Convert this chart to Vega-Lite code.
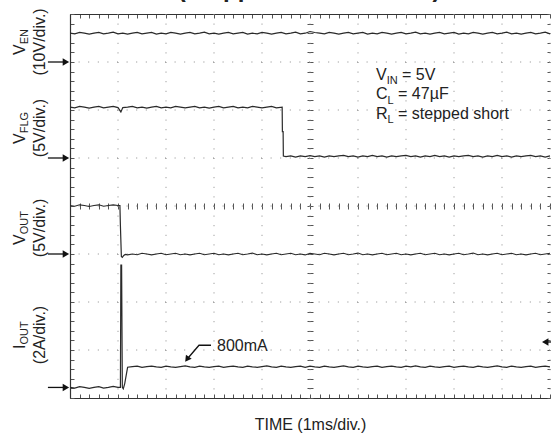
{
  "$schema": "https://vega.github.io/schema/vega-lite/v6.json",
  "width": 480,
  "height": 384,
  "autosize": "none",
  "padding": {"left": 70, "top": 14, "right": 1, "bottom": 37},
  "background": "white",
  "config": {"view": {"stroke": null}, "font": "Liberation Sans", "axis": {"labels": false, "grid": false, "tickColor": "#555", "domainColor": "#333", "tickWidth": 1, "title": null}},
  "datasets": {
    "gridx": [{"x": 1}, {"x": 2}, {"x": 3}, {"x": 4}, {"x": 5}, {"x": 6}, {"x": 7}, {"x": 8}, {"x": 9}, {"x": 10}],
    "gridy": [{"y": 1}, {"y": 2}, {"y": 3}, {"y": 4}, {"y": 5}, {"y": 6}, {"y": 7}],
    "refs": [{"ch": "VEN", "y": 7.0}, {"ch": "VFLG", "y": 5.0}, {"ch": "VOUT", "y": 3.0}, {"ch": "IOUT", "y": 0.22}],
    "refr": [{"ch": "IOUT", "y": 1.167}],
    "callout": [{"x": 2.9375, "y": 1.099}, {"x": 2.6875, "y": 1.099}, {"x": 2.4375, "y": 0.808}],
    "callhead": [{"x": 2.4375, "y": 0.808}],
    "ann": [
      {"t": "V", "x": 6.375, "y": 6.625}, {"t": "= 5V", "x": 6.917, "y": 6.625},
      {"t": "C", "x": 6.375, "y": 6.219}, {"t": "= 47µF", "x": 6.835, "y": 6.219},
      {"t": "R", "x": 6.375, "y": 5.8125}, {"t": "= stepped short", "x": 6.835, "y": 5.8125},
      {"t": "800mA", "x": 3.0625, "y": 0.979}
    ],
    "annsub": [
      {"t": "IN", "x": 6.598, "y": 6.552}, {"t": "L", "x": 6.617, "y": 6.135}, {"t": "L", "x": 6.617, "y": 5.729}
    ],
    "lab": [
      {"t": "V", "x": -0.9375, "y": 7.146}, {"t": "V", "x": -0.9375, "y": 5.292},
      {"t": "V", "x": -0.9375, "y": 3.1875}, {"t": "I", "x": -0.9375, "y": 1.021}
    ],
    "labsub": [
      {"t": "EN", "x": -0.865, "y": 7.369}, {"t": "FLG", "x": -0.865, "y": 5.515},
      {"t": "OUT", "x": -0.865, "y": 3.41}, {"t": "OUT", "x": -0.865, "y": 1.1125}
    ],
    "labscale": [
      {"t": "(10V/div.)", "x": -0.625, "y": 7.417}, {"t": "(5V/div.)", "x": -0.625, "y": 5.625},
      {"t": "(5V/div.)", "x": -0.625, "y": 3.542}, {"t": "(2A/div.)", "x": -0.625, "y": 1.3125}
    ],
    "title": [{"t": "(Stepped Short Circuit)", "x": 4.98, "y": 8.354}],
    "traces": [
      {"s":"VEN","x":0,"y":7.6},{"s":"VEN","x":0.1,"y":7.585},{"s":"VEN","x":0.2,"y":7.615},{"s":"VEN","x":0.3,"y":7.6},{"s":"VEN","x":0.4,"y":7.58},{"s":"VEN","x":0.5,"y":7.6},{"s":"VEN","x":0.6,"y":7.615},{"s":"VEN","x":0.7,"y":7.585},{"s":"VEN","x":0.8,"y":7.6},{"s":"VEN","x":0.9,"y":7.62},
      {"s":"VEN","x":1,"y":7.585},{"s":"VEN","x":1.1,"y":7.6},{"s":"VEN","x":1.2,"y":7.58},{"s":"VEN","x":1.3,"y":7.6},{"s":"VEN","x":1.4,"y":7.615},{"s":"VEN","x":1.5,"y":7.585},{"s":"VEN","x":1.6,"y":7.6},{"s":"VEN","x":1.7,"y":7.615},{"s":"VEN","x":1.8,"y":7.58},{"s":"VEN","x":1.9,"y":7.6},
      {"s":"VEN","x":2,"y":7.585},{"s":"VEN","x":2.1,"y":7.615},{"s":"VEN","x":2.2,"y":7.6},{"s":"VEN","x":2.3,"y":7.58},{"s":"VEN","x":2.4,"y":7.6},{"s":"VEN","x":2.5,"y":7.615},{"s":"VEN","x":2.6,"y":7.585},{"s":"VEN","x":2.7,"y":7.6},{"s":"VEN","x":2.8,"y":7.62},{"s":"VEN","x":2.9,"y":7.585},
      {"s":"VEN","x":3,"y":7.6},{"s":"VEN","x":3.1,"y":7.58},{"s":"VEN","x":3.2,"y":7.6},{"s":"VEN","x":3.3,"y":7.615},{"s":"VEN","x":3.4,"y":7.585},{"s":"VEN","x":3.5,"y":7.6},{"s":"VEN","x":3.6,"y":7.615},{"s":"VEN","x":3.7,"y":7.58},{"s":"VEN","x":3.8,"y":7.6},{"s":"VEN","x":3.9,"y":7.585},
      {"s":"VEN","x":4,"y":7.615},{"s":"VEN","x":4.1,"y":7.6},{"s":"VEN","x":4.2,"y":7.58},{"s":"VEN","x":4.3,"y":7.6},{"s":"VEN","x":4.4,"y":7.615},{"s":"VEN","x":4.5,"y":7.585},{"s":"VEN","x":4.6,"y":7.6},{"s":"VEN","x":4.7,"y":7.62},{"s":"VEN","x":4.8,"y":7.585},{"s":"VEN","x":4.9,"y":7.6},
      {"s":"VEN","x":5,"y":7.635},{"s":"VEN","x":5.1,"y":7.615},{"s":"VEN","x":5.2,"y":7.6},{"s":"VEN","x":5.3,"y":7.585},{"s":"VEN","x":5.4,"y":7.615},{"s":"VEN","x":5.5,"y":7.6},{"s":"VEN","x":5.6,"y":7.58},{"s":"VEN","x":5.7,"y":7.6},{"s":"VEN","x":5.8,"y":7.615},{"s":"VEN","x":5.9,"y":7.585},
      {"s":"VEN","x":6,"y":7.6},{"s":"VEN","x":6.1,"y":7.615},{"s":"VEN","x":6.2,"y":7.58},{"s":"VEN","x":6.3,"y":7.6},{"s":"VEN","x":6.4,"y":7.585},{"s":"VEN","x":6.5,"y":7.615},{"s":"VEN","x":6.6,"y":7.6},{"s":"VEN","x":6.7,"y":7.58},{"s":"VEN","x":6.8,"y":7.6},{"s":"VEN","x":6.9,"y":7.615},
      {"s":"VEN","x":7,"y":7.585},{"s":"VEN","x":7.1,"y":7.6},{"s":"VEN","x":7.2,"y":7.62},{"s":"VEN","x":7.3,"y":7.585},{"s":"VEN","x":7.4,"y":7.6},{"s":"VEN","x":7.5,"y":7.58},{"s":"VEN","x":7.6,"y":7.6},{"s":"VEN","x":7.7,"y":7.615},{"s":"VEN","x":7.8,"y":7.585},{"s":"VEN","x":7.9,"y":7.6},
      {"s":"VEN","x":8,"y":7.615},{"s":"VEN","x":8.1,"y":7.58},{"s":"VEN","x":8.2,"y":7.6},{"s":"VEN","x":8.3,"y":7.585},{"s":"VEN","x":8.4,"y":7.615},{"s":"VEN","x":8.5,"y":7.6},{"s":"VEN","x":8.6,"y":7.58},{"s":"VEN","x":8.7,"y":7.6},{"s":"VEN","x":8.8,"y":7.615},{"s":"VEN","x":8.9,"y":7.585},
      {"s":"VEN","x":9,"y":7.6},{"s":"VEN","x":9.1,"y":7.62},{"s":"VEN","x":9.2,"y":7.585},{"s":"VEN","x":9.3,"y":7.6},{"s":"VEN","x":9.4,"y":7.58},{"s":"VEN","x":9.5,"y":7.6},{"s":"VEN","x":9.6,"y":7.615},{"s":"VEN","x":9.7,"y":7.585},{"s":"VEN","x":9.8,"y":7.6},{"s":"VEN","x":9.9,"y":7.62},{"s":"VEN","x":10,"y":7.585},

      {"s":"VFLG","x":0,"y":6.06},{"s":"VFLG","x":0.1,"y":6.045},{"s":"VFLG","x":0.2,"y":6.075},{"s":"VFLG","x":0.3,"y":6.06},{"s":"VFLG","x":0.4,"y":6.04},{"s":"VFLG","x":0.5,"y":6.06},{"s":"VFLG","x":0.6,"y":6.075},{"s":"VFLG","x":0.7,"y":6.045},{"s":"VFLG","x":0.8,"y":6.06},{"s":"VFLG","x":0.9,"y":6.075},
      {"s":"VFLG","x":1,"y":6.05},{"s":"VFLG","x":1.06,"y":5.96},{"s":"VFLG","x":1.1,"y":6.05},{"s":"VFLG","x":1.2,"y":6.06},{"s":"VFLG","x":1.3,"y":6.075},{"s":"VFLG","x":1.4,"y":6.045},{"s":"VFLG","x":1.5,"y":6.06},{"s":"VFLG","x":1.6,"y":6.04},{"s":"VFLG","x":1.7,"y":6.06},{"s":"VFLG","x":1.8,"y":6.075},{"s":"VFLG","x":1.9,"y":6.045},
      {"s":"VFLG","x":2,"y":6.06},{"s":"VFLG","x":2.1,"y":6.045},{"s":"VFLG","x":2.2,"y":6.075},{"s":"VFLG","x":2.3,"y":6.06},{"s":"VFLG","x":2.4,"y":6.045},{"s":"VFLG","x":2.5,"y":6.06},{"s":"VFLG","x":2.6,"y":6.075},{"s":"VFLG","x":2.7,"y":6.045},{"s":"VFLG","x":2.8,"y":6.06},{"s":"VFLG","x":2.9,"y":6.04},
      {"s":"VFLG","x":3,"y":6.06},{"s":"VFLG","x":3.1,"y":6.075},{"s":"VFLG","x":3.2,"y":6.045},{"s":"VFLG","x":3.3,"y":6.06},{"s":"VFLG","x":3.4,"y":6.075},{"s":"VFLG","x":3.5,"y":6.045},{"s":"VFLG","x":3.6,"y":6.06},{"s":"VFLG","x":3.7,"y":6.045},{"s":"VFLG","x":3.8,"y":6.075},{"s":"VFLG","x":3.9,"y":6.06},
      {"s":"VFLG","x":4,"y":6.045},{"s":"VFLG","x":4.1,"y":6.06},{"s":"VFLG","x":4.2,"y":6.075},{"s":"VFLG","x":4.3,"y":6.045},{"s":"VFLG","x":4.42,"y":6.06},{"s":"VFLG","x":4.425,"y":5.55},{"s":"VFLG","x":4.44,"y":5.55},{"s":"VFLG","x":4.445,"y":5.04},
      {"s":"VFLG","x":4.5,"y":5.03},{"s":"VFLG","x":4.6,"y":5.045},{"s":"VFLG","x":4.7,"y":5.02},{"s":"VFLG","x":4.8,"y":5.045},{"s":"VFLG","x":4.9,"y":5.03},{"s":"VFLG","x":5,"y":5.05},{"s":"VFLG","x":5.1,"y":5.03},{"s":"VFLG","x":5.2,"y":5.045},{"s":"VFLG","x":5.3,"y":5.02},{"s":"VFLG","x":5.4,"y":5.045},
      {"s":"VFLG","x":5.5,"y":5.03},{"s":"VFLG","x":5.6,"y":5.045},{"s":"VFLG","x":5.7,"y":5.055},{"s":"VFLG","x":5.8,"y":5.03},{"s":"VFLG","x":5.9,"y":5.045},{"s":"VFLG","x":6,"y":5.02},{"s":"VFLG","x":6.1,"y":5.045},{"s":"VFLG","x":6.2,"y":5.03},{"s":"VFLG","x":6.3,"y":5.055},{"s":"VFLG","x":6.4,"y":5.03},
      {"s":"VFLG","x":6.5,"y":5.045},{"s":"VFLG","x":6.6,"y":5.02},{"s":"VFLG","x":6.7,"y":5.045},{"s":"VFLG","x":6.8,"y":5.03},{"s":"VFLG","x":6.9,"y":5.045},{"s":"VFLG","x":7,"y":5.055},{"s":"VFLG","x":7.1,"y":5.03},{"s":"VFLG","x":7.2,"y":5.045},{"s":"VFLG","x":7.3,"y":5.02},{"s":"VFLG","x":7.4,"y":5.045},
      {"s":"VFLG","x":7.5,"y":5.03},{"s":"VFLG","x":7.6,"y":5.055},{"s":"VFLG","x":7.7,"y":5.03},{"s":"VFLG","x":7.8,"y":5.045},{"s":"VFLG","x":7.9,"y":5.02},{"s":"VFLG","x":8,"y":5.045},{"s":"VFLG","x":8.1,"y":5.03},{"s":"VFLG","x":8.2,"y":5.045},{"s":"VFLG","x":8.3,"y":5.055},{"s":"VFLG","x":8.4,"y":5.03},
      {"s":"VFLG","x":8.5,"y":5.045},{"s":"VFLG","x":8.6,"y":5.02},{"s":"VFLG","x":8.7,"y":5.045},{"s":"VFLG","x":8.8,"y":5.03},{"s":"VFLG","x":8.9,"y":5.055},{"s":"VFLG","x":9,"y":5.03},{"s":"VFLG","x":9.1,"y":5.045},{"s":"VFLG","x":9.2,"y":5.02},{"s":"VFLG","x":9.3,"y":5.045},{"s":"VFLG","x":9.4,"y":5.03},
      {"s":"VFLG","x":9.5,"y":5.045},{"s":"VFLG","x":9.6,"y":5.055},{"s":"VFLG","x":9.7,"y":5.03},{"s":"VFLG","x":9.8,"y":5.045},{"s":"VFLG","x":9.9,"y":5.02},{"s":"VFLG","x":10,"y":5.045},

      {"s":"VOUT","x":0,"y":4.01},{"s":"VOUT","x":0.1,"y":3.995},{"s":"VOUT","x":0.2,"y":4.025},{"s":"VOUT","x":0.3,"y":4.01},{"s":"VOUT","x":0.4,"y":3.99},{"s":"VOUT","x":0.5,"y":4.01},{"s":"VOUT","x":0.6,"y":4.025},{"s":"VOUT","x":0.7,"y":3.995},{"s":"VOUT","x":0.8,"y":4.01},{"s":"VOUT","x":0.9,"y":4.025},
      {"s":"VOUT","x":1,"y":4.01},{"s":"VOUT","x":1.04,"y":4.01},{"s":"VOUT","x":1.05,"y":3.6},{"s":"VOUT","x":1.07,"y":2.95},{"s":"VOUT","x":1.09,"y":2.93},{"s":"VOUT","x":1.12,"y":2.97},{"s":"VOUT","x":1.15,"y":2.99},
      {"s":"VOUT","x":1.2,"y":2.98},{"s":"VOUT","x":1.3,"y":3.0},{"s":"VOUT","x":1.4,"y":2.985},{"s":"VOUT","x":1.5,"y":3.015},{"s":"VOUT","x":1.6,"y":3.0},{"s":"VOUT","x":1.7,"y":2.98},{"s":"VOUT","x":1.8,"y":3.0},{"s":"VOUT","x":1.9,"y":3.015},
      {"s":"VOUT","x":2,"y":2.985},{"s":"VOUT","x":2.1,"y":3.0},{"s":"VOUT","x":2.2,"y":3.015},{"s":"VOUT","x":2.3,"y":2.985},{"s":"VOUT","x":2.4,"y":3.0},{"s":"VOUT","x":2.5,"y":2.98},{"s":"VOUT","x":2.6,"y":3.0},{"s":"VOUT","x":2.7,"y":3.015},{"s":"VOUT","x":2.8,"y":2.985},{"s":"VOUT","x":2.9,"y":3.0},
      {"s":"VOUT","x":3,"y":3.015},{"s":"VOUT","x":3.1,"y":2.985},{"s":"VOUT","x":3.2,"y":3.0},{"s":"VOUT","x":3.3,"y":2.98},{"s":"VOUT","x":3.4,"y":3.0},{"s":"VOUT","x":3.5,"y":3.015},{"s":"VOUT","x":3.6,"y":2.985},{"s":"VOUT","x":3.7,"y":3.0},{"s":"VOUT","x":3.8,"y":3.02},{"s":"VOUT","x":3.9,"y":2.985},
      {"s":"VOUT","x":4,"y":3.0},{"s":"VOUT","x":4.1,"y":2.98},{"s":"VOUT","x":4.2,"y":3.0},{"s":"VOUT","x":4.3,"y":3.015},{"s":"VOUT","x":4.4,"y":2.985},{"s":"VOUT","x":4.5,"y":3.0},{"s":"VOUT","x":4.6,"y":3.015},{"s":"VOUT","x":4.7,"y":2.985},{"s":"VOUT","x":4.8,"y":3.0},{"s":"VOUT","x":4.9,"y":2.98},
      {"s":"VOUT","x":5,"y":3.015},{"s":"VOUT","x":5.1,"y":3.0},{"s":"VOUT","x":5.2,"y":2.985},{"s":"VOUT","x":5.3,"y":3.015},{"s":"VOUT","x":5.4,"y":3.0},{"s":"VOUT","x":5.5,"y":2.98},{"s":"VOUT","x":5.6,"y":3.0},{"s":"VOUT","x":5.7,"y":3.015},{"s":"VOUT","x":5.8,"y":2.985},{"s":"VOUT","x":5.9,"y":3.0},
      {"s":"VOUT","x":6,"y":3.02},{"s":"VOUT","x":6.1,"y":2.985},{"s":"VOUT","x":6.2,"y":3.0},{"s":"VOUT","x":6.3,"y":2.98},{"s":"VOUT","x":6.4,"y":3.0},{"s":"VOUT","x":6.5,"y":3.015},{"s":"VOUT","x":6.6,"y":2.985},{"s":"VOUT","x":6.7,"y":3.0},{"s":"VOUT","x":6.8,"y":3.015},{"s":"VOUT","x":6.9,"y":2.985},
      {"s":"VOUT","x":7,"y":3.0},{"s":"VOUT","x":7.1,"y":2.98},{"s":"VOUT","x":7.2,"y":3.0},{"s":"VOUT","x":7.3,"y":3.015},{"s":"VOUT","x":7.4,"y":2.985},{"s":"VOUT","x":7.5,"y":3.0},{"s":"VOUT","x":7.6,"y":3.015},{"s":"VOUT","x":7.7,"y":2.985},{"s":"VOUT","x":7.8,"y":3.0},{"s":"VOUT","x":7.9,"y":2.98},
      {"s":"VOUT","x":8,"y":3.0},{"s":"VOUT","x":8.1,"y":3.015},{"s":"VOUT","x":8.2,"y":2.985},{"s":"VOUT","x":8.3,"y":3.0},{"s":"VOUT","x":8.4,"y":3.02},{"s":"VOUT","x":8.5,"y":2.985},{"s":"VOUT","x":8.6,"y":3.0},{"s":"VOUT","x":8.7,"y":2.98},{"s":"VOUT","x":8.8,"y":3.0},{"s":"VOUT","x":8.9,"y":3.015},
      {"s":"VOUT","x":9,"y":2.985},{"s":"VOUT","x":9.1,"y":3.0},{"s":"VOUT","x":9.2,"y":3.015},{"s":"VOUT","x":9.3,"y":2.985},{"s":"VOUT","x":9.4,"y":3.0},{"s":"VOUT","x":9.5,"y":2.98},{"s":"VOUT","x":9.6,"y":3.0},{"s":"VOUT","x":9.7,"y":3.015},{"s":"VOUT","x":9.8,"y":2.985},{"s":"VOUT","x":9.9,"y":3.0},{"s":"VOUT","x":10,"y":3.015},

      {"s":"IOUT","x":0,"y":0.22},{"s":"IOUT","x":0.1,"y":0.205},{"s":"IOUT","x":0.2,"y":0.235},{"s":"IOUT","x":0.3,"y":0.22},{"s":"IOUT","x":0.4,"y":0.2},{"s":"IOUT","x":0.5,"y":0.22},{"s":"IOUT","x":0.6,"y":0.235},{"s":"IOUT","x":0.7,"y":0.205},{"s":"IOUT","x":0.8,"y":0.22},{"s":"IOUT","x":0.9,"y":0.24},
      {"s":"IOUT","x":1,"y":0.22},{"s":"IOUT","x":1.05,"y":0.22},{"s":"IOUT","x":1.06,"y":2.77},{"s":"IOUT","x":1.075,"y":2.77},{"s":"IOUT","x":1.09,"y":0.22},{"s":"IOUT","x":1.11,"y":0.19},{"s":"IOUT","x":1.14,"y":0.3},
      {"s":"IOUT","x":1.2,"y":0.64},{"s":"IOUT","x":1.3,"y":0.655},{"s":"IOUT","x":1.4,"y":0.665},{"s":"IOUT","x":1.5,"y":0.64},{"s":"IOUT","x":1.6,"y":0.655},{"s":"IOUT","x":1.7,"y":0.665},{"s":"IOUT","x":1.8,"y":0.65},{"s":"IOUT","x":1.9,"y":0.64},
      {"s":"IOUT","x":2,"y":0.665},{"s":"IOUT","x":2.1,"y":0.65},{"s":"IOUT","x":2.2,"y":0.64},{"s":"IOUT","x":2.3,"y":0.655},{"s":"IOUT","x":2.4,"y":0.67},{"s":"IOUT","x":2.5,"y":0.65},{"s":"IOUT","x":2.6,"y":0.64},{"s":"IOUT","x":2.7,"y":0.665},{"s":"IOUT","x":2.8,"y":0.65},{"s":"IOUT","x":2.9,"y":0.64},
      {"s":"IOUT","x":3,"y":0.655},{"s":"IOUT","x":3.1,"y":0.665},{"s":"IOUT","x":3.2,"y":0.64},{"s":"IOUT","x":3.3,"y":0.655},{"s":"IOUT","x":3.4,"y":0.665},{"s":"IOUT","x":3.5,"y":0.65},{"s":"IOUT","x":3.6,"y":0.64},{"s":"IOUT","x":3.7,"y":0.665},{"s":"IOUT","x":3.8,"y":0.65},{"s":"IOUT","x":3.9,"y":0.64},
      {"s":"IOUT","x":4,"y":0.655},{"s":"IOUT","x":4.1,"y":0.67},{"s":"IOUT","x":4.2,"y":0.65},{"s":"IOUT","x":4.3,"y":0.64},{"s":"IOUT","x":4.4,"y":0.665},{"s":"IOUT","x":4.5,"y":0.65},{"s":"IOUT","x":4.6,"y":0.64},{"s":"IOUT","x":4.7,"y":0.655},{"s":"IOUT","x":4.8,"y":0.665},{"s":"IOUT","x":4.9,"y":0.64},
      {"s":"IOUT","x":5,"y":0.665},{"s":"IOUT","x":5.1,"y":0.65},{"s":"IOUT","x":5.2,"y":0.64},{"s":"IOUT","x":5.3,"y":0.665},{"s":"IOUT","x":5.4,"y":0.65},{"s":"IOUT","x":5.5,"y":0.64},{"s":"IOUT","x":5.6,"y":0.655},{"s":"IOUT","x":5.7,"y":0.67},{"s":"IOUT","x":5.8,"y":0.65},{"s":"IOUT","x":5.9,"y":0.64},
      {"s":"IOUT","x":6,"y":0.665},{"s":"IOUT","x":6.1,"y":0.65},{"s":"IOUT","x":6.2,"y":0.64},{"s":"IOUT","x":6.3,"y":0.655},{"s":"IOUT","x":6.4,"y":0.665},{"s":"IOUT","x":6.5,"y":0.64},{"s":"IOUT","x":6.6,"y":0.655},{"s":"IOUT","x":6.7,"y":0.665},{"s":"IOUT","x":6.8,"y":0.65},{"s":"IOUT","x":6.9,"y":0.64},
      {"s":"IOUT","x":7,"y":0.665},{"s":"IOUT","x":7.1,"y":0.65},{"s":"IOUT","x":7.2,"y":0.67},{"s":"IOUT","x":7.3,"y":0.65},{"s":"IOUT","x":7.4,"y":0.64},{"s":"IOUT","x":7.5,"y":0.665},{"s":"IOUT","x":7.6,"y":0.65},{"s":"IOUT","x":7.7,"y":0.64},{"s":"IOUT","x":7.8,"y":0.655},{"s":"IOUT","x":7.9,"y":0.665},
      {"s":"IOUT","x":8,"y":0.64},{"s":"IOUT","x":8.1,"y":0.655},{"s":"IOUT","x":8.2,"y":0.665},{"s":"IOUT","x":8.3,"y":0.65},{"s":"IOUT","x":8.4,"y":0.64},{"s":"IOUT","x":8.5,"y":0.665},{"s":"IOUT","x":8.6,"y":0.65},{"s":"IOUT","x":8.7,"y":0.64},{"s":"IOUT","x":8.8,"y":0.655},{"s":"IOUT","x":8.9,"y":0.67},
      {"s":"IOUT","x":9,"y":0.65},{"s":"IOUT","x":9.1,"y":0.64},{"s":"IOUT","x":9.2,"y":0.665},{"s":"IOUT","x":9.3,"y":0.65},{"s":"IOUT","x":9.4,"y":0.64},{"s":"IOUT","x":9.5,"y":0.655},{"s":"IOUT","x":9.6,"y":0.665},{"s":"IOUT","x":9.7,"y":0.64},{"s":"IOUT","x":9.8,"y":0.655},{"s":"IOUT","x":9.9,"y":0.665},{"s":"IOUT","x":10,"y":0.65}
    ]
  },
  "resolve": {"axis": {"x": "independent", "y": "independent"}},
  "layer": [
    {
      "data": {"name": "gridx"},
      "mark": {"type": "rule", "strokeDash": [1, 8.6], "color": "#8a8a8a", "strokeWidth": 1},
      "encoding": {
        "x": {"field": "x", "type": "quantitative", "scale": {"domain": [0, 10], "nice": false, "zero": false},
          "axis": {"orient": "bottom", "values": [0,0.2,0.4,0.6,0.8,1,1.2,1.4,1.6,1.8,2,2.2,2.4,2.6,2.8,3,3.2,3.4,3.6,3.8,4,4.2,4.4,4.6,4.8,5,5.2,5.4,5.6,5.8,6,6.2,6.4,6.6,6.8,7,7.2,7.4,7.6,7.8,8,8.2,8.4,8.6,8.8,9,9.2,9.4,9.6,9.8,10],
            "tickSize": -4, "labels": false, "domain": true, "domainWidth": 1.2,
            "title": "TIME (1ms/div.)", "titleFont": "Liberation Sans", "titleFontSize": 16, "titleFontWeight": "normal", "titleColor": "#222", "titleBaseline": "alphabetic", "titleY": 31}}
      }
    },
    {
      "data": {"name": "gridy"},
      "mark": {"type": "rule", "strokeDash": [1, 8.6], "color": "#8a8a8a", "strokeWidth": 1},
      "encoding": {
        "y": {"field": "y", "type": "quantitative", "scale": {"domain": [0, 8], "nice": false, "zero": false},
          "axis": {"orient": "left", "values": [0,0.2,0.4,0.6,0.8,1,1.2,1.4,1.6,1.8,2,2.2,2.4,2.6,2.8,3,3.2,3.4,3.6,3.8,4,4.2,4.4,4.6,4.8,5,5.2,5.4,5.6,5.8,6,6.2,6.4,6.6,6.8,7,7.2,7.4,7.6,7.8,8],
            "tickSize": -4, "labels": false, "domain": true, "domainWidth": 1.2, "title": null}}
      }
    },
    {
      "data": {"name": "traces"},
      "mark": {"type": "line", "color": "#2a2a2a", "strokeWidth": 1.2},
      "encoding": {
        "x": {"field": "x", "type": "quantitative", "scale": {"domain": [0, 10], "nice": false, "zero": false},
          "axis": {"orient": "top", "values": [0,0.2,0.4,0.6,0.8,1,1.2,1.4,1.6,1.8,2,2.2,2.4,2.6,2.8,3,3.2,3.4,3.6,3.8,4,4.2,4.4,4.6,4.8,5,5.2,5.4,5.6,5.8,6,6.2,6.4,6.6,6.8,7,7.2,7.4,7.6,7.8,8,8.2,8.4,8.6,8.8,9,9.2,9.4,9.6,9.8,10],
            "tickSize": -4, "labels": false, "domain": true, "domainWidth": 1.2, "title": null}},
        "y": {"field": "y", "type": "quantitative", "scale": {"domain": [0, 8], "nice": false, "zero": false},
          "axis": {"orient": "right", "values": [0,0.2,0.4,0.6,0.8,1,1.2,1.4,1.6,1.8,2,2.2,2.4,2.6,2.8,3,3.2,3.4,3.6,3.8,4,4.2,4.4,4.6,4.8,5,5.2,5.4,5.6,5.8,6,6.2,6.4,6.6,6.8,7,7.2,7.4,7.6,7.8,8],
            "tickSize": -3, "labels": false, "domain": false, "title": null}},
        "detail": {"field": "s"}
      }
    },
    {
      "data": {"name": "ann"},
      "mark": {"type": "text", "font": "Liberation Sans", "fontSize": 16, "align": "left", "baseline": "alphabetic", "color": "#222"},
      "encoding": {
        "x": {"field": "x", "type": "quantitative", "scale": {"domain": [0, 10], "nice": false, "zero": false},
          "axis": {"orient": "bottom", "offset": -195, "values": [0,0.2,0.4,0.6,0.8,1,1.2,1.4,1.6,1.8,2,2.2,2.4,2.6,2.8,3,3.2,3.4,3.6,3.8,4,4.2,4.4,4.6,4.8,5,5.2,5.4,5.6,5.8,6,6.2,6.4,6.6,6.8,7,7.2,7.4,7.6,7.8,8,8.2,8.4,8.6,8.8,9,9.2,9.4,9.6,9.8,10],
            "tickSize": 6, "labels": false, "domain": false, "title": null}},
        "y": {"field": "y", "type": "quantitative", "scale": {"domain": [0, 8], "nice": false, "zero": false},
          "axis": {"orient": "left", "offset": -243, "values": [0,0.2,0.4,0.6,0.8,1,1.2,1.4,1.6,1.8,2,2.2,2.4,2.6,2.8,3,3.2,3.4,3.6,3.8,4,4.2,4.4,4.6,4.8,5,5.2,5.4,5.6,5.8,6,6.2,6.4,6.6,6.8,7,7.2,7.4,7.6,7.8,8],
            "tickSize": 6, "labels": false, "domain": false, "title": null}},
        "text": {"field": "t"}
      }
    },
    {
      "data": {"name": "annsub"},
      "mark": {"type": "text", "font": "Liberation Sans", "fontSize": 11, "align": "left", "baseline": "alphabetic", "color": "#222"},
      "encoding": {
        "x": {"field": "x", "type": "quantitative", "scale": {"domain": [0, 10], "nice": false, "zero": false}, "axis": null},
        "y": {"field": "y", "type": "quantitative", "scale": {"domain": [0, 8], "nice": false, "zero": false}, "axis": null},
        "text": {"field": "t"}
      }
    },
    {
      "data": {"name": "lab"},
      "mark": {"type": "text", "font": "Liberation Sans", "fontSize": 16, "align": "left", "baseline": "alphabetic", "angle": 270, "color": "#222"},
      "encoding": {
        "x": {"field": "x", "type": "quantitative", "scale": {"domain": [0, 10], "nice": false, "zero": false}, "axis": null},
        "y": {"field": "y", "type": "quantitative", "scale": {"domain": [0, 8], "nice": false, "zero": false}, "axis": null},
        "text": {"field": "t"}
      }
    },
    {
      "data": {"name": "labsub"},
      "mark": {"type": "text", "font": "Liberation Sans", "fontSize": 11, "align": "left", "baseline": "alphabetic", "angle": 270, "color": "#222"},
      "encoding": {
        "x": {"field": "x", "type": "quantitative", "scale": {"domain": [0, 10], "nice": false, "zero": false}, "axis": null},
        "y": {"field": "y", "type": "quantitative", "scale": {"domain": [0, 8], "nice": false, "zero": false}, "axis": null},
        "text": {"field": "t"}
      }
    },
    {
      "data": {"name": "labscale"},
      "mark": {"type": "text", "font": "Liberation Sans", "fontSize": 16, "align": "center", "baseline": "middle", "angle": 270, "color": "#222"},
      "encoding": {
        "x": {"field": "x", "type": "quantitative", "scale": {"domain": [0, 10], "nice": false, "zero": false}, "axis": null},
        "y": {"field": "y", "type": "quantitative", "scale": {"domain": [0, 8], "nice": false, "zero": false}, "axis": null},
        "text": {"field": "t"}
      }
    },
    {
      "data": {"name": "title"},
      "mark": {"type": "text", "font": "Liberation Sans", "fontSize": 24, "fontWeight": "bold", "align": "center", "baseline": "alphabetic", "color": "#222"},
      "encoding": {
        "x": {"field": "x", "type": "quantitative", "scale": {"domain": [0, 10], "nice": false, "zero": false}, "axis": null},
        "y": {"field": "y", "type": "quantitative", "scale": {"domain": [0, 8], "nice": false, "zero": false}, "axis": null},
        "text": {"field": "t"}
      }
    },
    {
      "data": {"name": "refs"},
      "mark": {"type": "rule", "color": "#111", "strokeWidth": 1.3},
      "encoding": {
        "x": {"datum": -0.46, "type": "quantitative", "scale": {"domain": [0, 10], "nice": false, "zero": false}, "axis": null},
        "x2": {"datum": -0.1},
        "y": {"field": "y", "type": "quantitative", "scale": {"domain": [0, 8], "nice": false, "zero": false}, "axis": null}
      }
    },
    {
      "data": {"name": "refs"},
      "mark": {"type": "point", "shape": "triangle-right", "filled": true, "color": "#111", "size": 55, "opacity": 1},
      "encoding": {
        "x": {"datum": -0.085, "type": "quantitative", "scale": {"domain": [0, 10], "nice": false, "zero": false}, "axis": null},
        "y": {"field": "y", "type": "quantitative", "scale": {"domain": [0, 8], "nice": false, "zero": false}, "axis": null}
      }
    },
    {
      "data": {"name": "refr"},
      "mark": {"type": "rule", "color": "#111", "strokeWidth": 1.3},
      "encoding": {
        "x": {"datum": 9.92, "type": "quantitative", "scale": {"domain": [0, 10], "nice": false, "zero": false}, "axis": null},
        "x2": {"datum": 10.05},
        "y": {"field": "y", "type": "quantitative", "scale": {"domain": [0, 8], "nice": false, "zero": false}, "axis": null}
      }
    },
    {
      "data": {"name": "refr"},
      "mark": {"type": "point", "shape": "triangle-left", "filled": true, "color": "#111", "size": 55, "opacity": 1},
      "encoding": {
        "x": {"datum": 9.9, "type": "quantitative", "scale": {"domain": [0, 10], "nice": false, "zero": false}, "axis": null},
        "y": {"field": "y", "type": "quantitative", "scale": {"domain": [0, 8], "nice": false, "zero": false}, "axis": null}
      }
    },
    {
      "data": {"name": "callout"},
      "mark": {"type": "line", "color": "#111", "strokeWidth": 1.3},
      "encoding": {
        "x": {"field": "x", "type": "quantitative", "scale": {"domain": [0, 10], "nice": false, "zero": false}, "axis": null},
        "y": {"field": "y", "type": "quantitative", "scale": {"domain": [0, 8], "nice": false, "zero": false}, "axis": null}
      }
    },
    {
      "data": {"name": "callhead"},
      "mark": {"type": "point", "shape": "triangle-up", "angle": 216, "filled": true, "color": "#111", "size": 50, "opacity": 1},
      "encoding": {
        "x": {"field": "x", "type": "quantitative", "scale": {"domain": [0, 10], "nice": false, "zero": false}, "axis": null},
        "y": {"field": "y", "type": "quantitative", "scale": {"domain": [0, 8], "nice": false, "zero": false}, "axis": null}
      }
    }
  ]
}
